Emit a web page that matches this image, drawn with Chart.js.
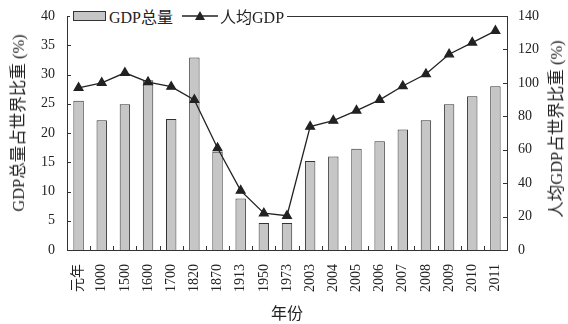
<!DOCTYPE html>
<html><head><meta charset="utf-8">
<script src="https://cdn.jsdelivr.net/npm/chart.js@4/dist/chart.umd.min.js"></script>
<style>
html,body{margin:0;padding:0;background:#fff;}
#wrap{position:relative;width:568px;height:324px;}
canvas{display:block;}
#legend{position:absolute;left:70px;top:6px;height:20px;background:#fff;font-family:"Liberation Serif","Noto Sans CJK SC",serif;font-size:16px;color:#222;display:flex;align-items:center;padding:0 3px;white-space:nowrap;}
#legend .box{display:inline-block;width:31px;height:8px;background:#c6c6c6;border:1px solid #333;margin-right:3px;}
#legend svg{margin:0 2px 0 9px;}
.ytitle{position:absolute;font-family:"Liberation Serif","Noto Sans CJK SC",serif;font-size:16.5px;color:#222;white-space:nowrap;transform:translate(-50%,-50%) rotate(-90deg);}
#ltitle{left:17px;top:123px;}
#rtitle{left:555px;top:129px;}
</style></head>
<body>
<div id="wrap">
<canvas id="c" width="568" height="324"></canvas>
<div id="legend"><span class="box"></span><span>GDP总量</span><svg width="36" height="12"><line x1="0" y1="6" x2="36" y2="6" stroke="#222" stroke-width="1.3"/><polygon points="18,1 23,10 13,10" fill="#222"/></svg><span>人均GDP</span></div>
<div class="ytitle" id="ltitle">GDP总量占世界比重 (%)</div>
<div class="ytitle" id="rtitle">人均GDP占世界比重 (%)</div>
</div>
<script>
const categories = ['元年','1000','1500','1600','1700','1820','1870','1913','1950','1973','2003','2004','2005','2006','2007','2008','2009','2010','2011'];
const gdpShare = [25.5,22.2,24.9,29.0,22.4,32.9,16.8,8.8,4.6,4.6,15.2,16.0,17.3,18.6,20.6,22.2,24.9,26.3,28.0];
const perCapitaShare = [97,100,106,100.5,97.7,89.8,61,35.5,22,20.5,73.8,77.4,83.4,89.8,98.1,105.3,117.1,124.1,131.1];
const seriesNames = ['GDP总量','人均GDP'];
const xAxisTitle = '年份';

const FONT = '"Liberation Serif","Noto Sans CJK SC",serif';
const INK = '#222';

const framePlugin = {
  id:'frame',
  afterDraw(chart){
    const ctx = chart.ctx, a = chart.chartArea;
    const x = chart.scales.x, yl = chart.scales.y, yr = chart.scales.y1;
    ctx.save();
    ctx.strokeStyle = '#333'; ctx.lineWidth = 1;
    ctx.beginPath();
    ctx.moveTo(a.left, a.top+0.5); ctx.lineTo(a.right, a.top+0.5);
    yl.ticks.forEach((t,i)=>{ const p = Math.round(yl.getPixelForTick(i))+0.5; ctx.moveTo(a.left, p); ctx.lineTo(a.left+4, p); });
    yr.ticks.forEach((t,i)=>{ const p = Math.round(yr.getPixelForTick(i))+0.5; ctx.moveTo(a.right, p); ctx.lineTo(a.right-4, p); });
    for(let i=1;i<categories.length;i++){
      const p = Math.round((x.getPixelForValue(i-1)+x.getPixelForValue(i))/2)+0.5;
      ctx.moveTo(p, a.bottom); ctx.lineTo(p, a.bottom-4);
    }
    ctx.stroke();
    ctx.restore();
  }
};

function fixV(width){ return function(s){ s.width = width; s.paddingTop = 0; s.paddingBottom = 0; }; }

new Chart(document.getElementById('c'), {
  data:{
    labels:categories,
    datasets:[
      {type:'line', label:seriesNames[1], data:perCapitaShare, yAxisID:'y1', borderColor:INK, borderWidth:1.3, pointStyle:'triangle', pointRadius:5, pointBackgroundColor:INK, pointBorderColor:INK, tension:0, order:0},
      {type:'bar', label:seriesNames[0], data:gdpShare, yAxisID:'y', backgroundColor:'#c6c6c6', borderColor:'#333', borderWidth:1, barPercentage:0.45, categoryPercentage:1, order:1}
    ]
  },
  options:{
    responsive:false, animation:false,
    layout:{padding:{top:16,left:0,right:0,bottom:0}},
    plugins:{legend:{display:false}, tooltip:{enabled:false}},
    scales:{
      x:{
        grid:{display:false, drawTicks:false},
        border:{display:true,color:'#333',width:1},
        ticks:{font:{family:FONT,size:14},color:INK,maxRotation:90,minRotation:90,padding:14,autoSkip:false},
        title:{display:true,text:xAxisTitle,font:{family:FONT,size:16},color:INK,padding:{top:2,bottom:0}},
        afterFit(s){ s.height = 74; s.paddingLeft = 0; s.paddingRight = 0; }
      },
      y:{
        position:'left', min:0, max:40,
        grid:{display:false, drawTicks:false},
        border:{display:true,color:'#333',width:1},
        ticks:{stepSize:5,font:{family:FONT,size:14},color:INK,padding:12},
        afterFit: fixV(67)
      },
      y1:{
        position:'right', min:0, max:140,
        grid:{display:false, drawTicks:false},
        border:{display:true,color:'#333',width:1},
        ticks:{stepSize:20,font:{family:FONT,size:14},color:INK,padding:11},
        afterFit: fixV(61)
      }
    }
  },
  plugins:[framePlugin]
});
</script>
</body></html>
